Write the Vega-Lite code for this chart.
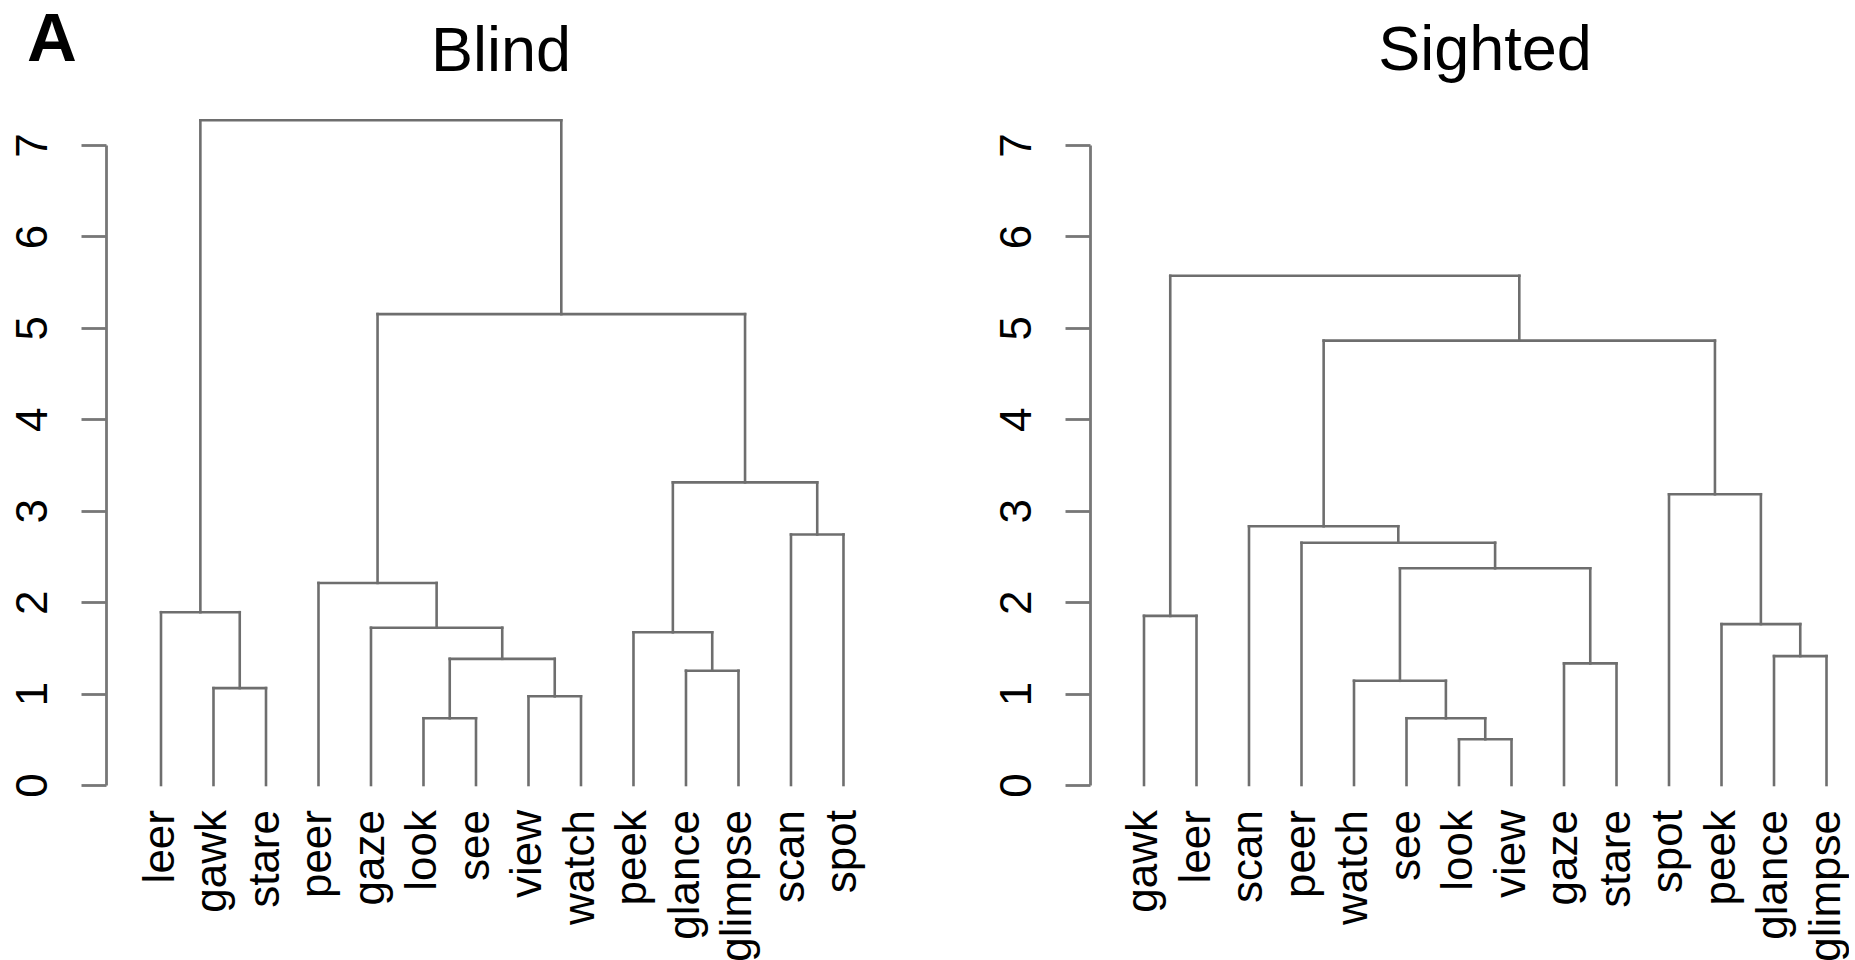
{
  "$schema": "https://vega.github.io/schema/vega-lite/v6.json",
  "background": "white",
  "padding": {"left": 10, "top": 5, "right": 0, "bottom": 0},
  "title": {"text": "A", "anchor": "start", "frame": "bounds", "fontSize": 69, "fontWeight": "bold", "font": "Liberation Sans", "color": "black", "offset": -110, "dx": 16, "baseline": "alphabetic"},
  "spacing": 128,
  "datasets": {
    "blind_merges": [
      {"x1": 2, "x2": 3, "h": 1.06, "h1": 0, "h2": 0},
      {"x1": 1, "x2": 2.5, "h": 1.89, "h1": 0, "h2": 1.06},
      {"x1": 6, "x2": 7, "h": 0.73, "h1": 0, "h2": 0},
      {"x1": 8, "x2": 9, "h": 0.97, "h1": 0, "h2": 0},
      {"x1": 6.5, "x2": 8.5, "h": 1.38, "h1": 0.73, "h2": 0.97},
      {"x1": 5, "x2": 7.5, "h": 1.72, "h1": 0, "h2": 1.38},
      {"x1": 4, "x2": 6.25, "h": 2.21, "h1": 0, "h2": 1.72},
      {"x1": 11, "x2": 12, "h": 1.25, "h1": 0, "h2": 0},
      {"x1": 10, "x2": 11.5, "h": 1.67, "h1": 0, "h2": 1.25},
      {"x1": 13, "x2": 14, "h": 2.74, "h1": 0, "h2": 0},
      {"x1": 10.75, "x2": 13.5, "h": 3.31, "h1": 1.67, "h2": 2.74},
      {"x1": 5.125, "x2": 12.125, "h": 5.15, "h1": 2.21, "h2": 3.31},
      {"x1": 1.75, "x2": 8.625, "h": 7.27, "h1": 1.89, "h2": 5.15}
    ],
    "blind_leaves": [
      {"word": "leer", "pos": 1}, {"word": "gawk", "pos": 2}, {"word": "stare", "pos": 3},
      {"word": "peer", "pos": 4}, {"word": "gaze", "pos": 5}, {"word": "look", "pos": 6},
      {"word": "see", "pos": 7}, {"word": "view", "pos": 8}, {"word": "watch", "pos": 9},
      {"word": "peek", "pos": 10}, {"word": "glance", "pos": 11}, {"word": "glimpse", "pos": 12},
      {"word": "scan", "pos": 13}, {"word": "spot", "pos": 14}
    ],
    "sighted_merges": [
      {"x1": 1, "x2": 2, "h": 1.85, "h1": 0, "h2": 0},
      {"x1": 7, "x2": 8, "h": 0.50, "h1": 0, "h2": 0},
      {"x1": 6, "x2": 7.5, "h": 0.73, "h1": 0, "h2": 0.50},
      {"x1": 5, "x2": 6.75, "h": 1.14, "h1": 0, "h2": 0.73},
      {"x1": 9, "x2": 10, "h": 1.33, "h1": 0, "h2": 0},
      {"x1": 5.875, "x2": 9.5, "h": 2.37, "h1": 1.14, "h2": 1.33},
      {"x1": 4, "x2": 7.6875, "h": 2.65, "h1": 0, "h2": 2.37},
      {"x1": 3, "x2": 5.84375, "h": 2.83, "h1": 0, "h2": 2.65},
      {"x1": 13, "x2": 14, "h": 1.41, "h1": 0, "h2": 0},
      {"x1": 12, "x2": 13.5, "h": 1.76, "h1": 0, "h2": 1.41},
      {"x1": 11, "x2": 12.75, "h": 3.18, "h1": 0, "h2": 1.76},
      {"x1": 4.421875, "x2": 11.875, "h": 4.86, "h1": 2.83, "h2": 3.18},
      {"x1": 1.5, "x2": 8.1484375, "h": 5.57, "h1": 1.85, "h2": 4.86}
    ],
    "sighted_leaves": [
      {"word": "gawk", "pos": 1}, {"word": "leer", "pos": 2}, {"word": "scan", "pos": 3},
      {"word": "peer", "pos": 4}, {"word": "watch", "pos": 5}, {"word": "see", "pos": 6},
      {"word": "look", "pos": 7}, {"word": "view", "pos": 8}, {"word": "gaze", "pos": 9},
      {"word": "stare", "pos": 10}, {"word": "spot", "pos": 11}, {"word": "peek", "pos": 12},
      {"word": "glance", "pos": 13}, {"word": "glimpse", "pos": 14}
    ]
  },
  "hconcat": [
    {
      "width": 760,
      "height": 640,
      "title": {"text": "Blind", "fontSize": 63, "font": "Liberation Sans", "fontWeight": "normal", "color": "black", "anchor": "middle", "frame": "group", "dx": 15, "offset": -16, "baseline": "alphabetic"},
      "layer": [
        {
          "data": {"name": "blind_merges"},
          "mark": {"type": "rule", "color": "#6e6e6e", "strokeWidth": 2.6, "strokeCap": "square"},
          "encoding": {
            "x": {"field": "x1", "type": "quantitative", "scale": {"domain": [-0.0476, 14.429], "nice": false, "zero": false}, "axis": null},
            "x2": {"field": "x2"},
            "y": {"field": "h", "type": "quantitative", "scale": {"domain": [0, 7], "nice": false},
                  "axis": {"values": [0, 1, 2, 3, 4, 5, 6, 7], "format": "d", "title": null, "grid": false, "tickSize": 25, "labelPadding": 35, "labelAngle": 270, "labelAlign": "center", "labelBaseline": "alphabetic", "labelFontSize": 44, "labelFont": "Liberation Sans", "labelColor": "black", "domainColor": "#777777", "tickColor": "#777777", "domainWidth": 2.8, "tickWidth": 2.8, "labelOverlap": false, "labelFlush": false}}
          }
        },
        {
          "data": {"name": "blind_merges"},
          "mark": {"type": "rule", "color": "#6e6e6e", "strokeWidth": 2.6, "strokeCap": "square"},
          "encoding": {
            "x": {"field": "x1", "type": "quantitative"},
            "y": {"field": "h1", "type": "quantitative"},
            "y2": {"field": "h"}
          }
        },
        {
          "data": {"name": "blind_merges"},
          "mark": {"type": "rule", "color": "#6e6e6e", "strokeWidth": 2.6, "strokeCap": "square"},
          "encoding": {
            "x": {"field": "x2", "type": "quantitative"},
            "y": {"field": "h2", "type": "quantitative"},
            "y2": {"field": "h"}
          }
        },
        {
          "data": {"name": "blind_leaves"},
          "mark": {"type": "text", "angle": 270, "align": "right", "baseline": "middle", "dx": -25, "fontSize": 44, "font": "Liberation Sans", "color": "black"},
          "encoding": {
            "x": {"field": "pos", "type": "quantitative"},
            "y": {"datum": 0, "type": "quantitative"},
            "text": {"field": "word"}
          }
        }
      ]
    },
    {
      "width": 750,
      "height": 640,
      "title": {"text": "Sighted", "fontSize": 63, "font": "Liberation Sans", "fontWeight": "normal", "color": "black", "anchor": "middle", "frame": "group", "dx": 20, "offset": 0, "baseline": "alphabetic"},
      "layer": [
        {
          "data": {"name": "sighted_merges"},
          "mark": {"type": "rule", "color": "#6e6e6e", "strokeWidth": 2.6, "strokeCap": "square"},
          "encoding": {
            "x": {"field": "x1", "type": "quantitative", "scale": {"domain": [-0.0286, 14.257], "nice": false, "zero": false}, "axis": null},
            "x2": {"field": "x2"},
            "y": {"field": "h", "type": "quantitative", "scale": {"domain": [0, 7], "nice": false},
                  "axis": {"values": [0, 1, 2, 3, 4, 5, 6, 7], "format": "d", "title": null, "grid": false, "tickSize": 25, "labelPadding": 35, "labelAngle": 270, "labelAlign": "center", "labelBaseline": "alphabetic", "labelFontSize": 44, "labelFont": "Liberation Sans", "labelColor": "black", "domainColor": "#777777", "tickColor": "#777777", "domainWidth": 2.8, "tickWidth": 2.8, "labelOverlap": false, "labelFlush": false}}
          }
        },
        {
          "data": {"name": "sighted_merges"},
          "mark": {"type": "rule", "color": "#6e6e6e", "strokeWidth": 2.6, "strokeCap": "square"},
          "encoding": {
            "x": {"field": "x1", "type": "quantitative"},
            "y": {"field": "h1", "type": "quantitative"},
            "y2": {"field": "h"}
          }
        },
        {
          "data": {"name": "sighted_merges"},
          "mark": {"type": "rule", "color": "#6e6e6e", "strokeWidth": 2.6, "strokeCap": "square"},
          "encoding": {
            "x": {"field": "x2", "type": "quantitative"},
            "y": {"field": "h2", "type": "quantitative"},
            "y2": {"field": "h"}
          }
        },
        {
          "data": {"name": "sighted_leaves"},
          "mark": {"type": "text", "angle": 270, "align": "right", "baseline": "middle", "dx": -25, "fontSize": 44, "font": "Liberation Sans", "color": "black"},
          "encoding": {
            "x": {"field": "pos", "type": "quantitative"},
            "y": {"datum": 0, "type": "quantitative"},
            "text": {"field": "word"}
          }
        }
      ]
    }
  ],
  "config": {
    "view": {"stroke": null},
    "concat": {"spacing": 128}
  }
}
